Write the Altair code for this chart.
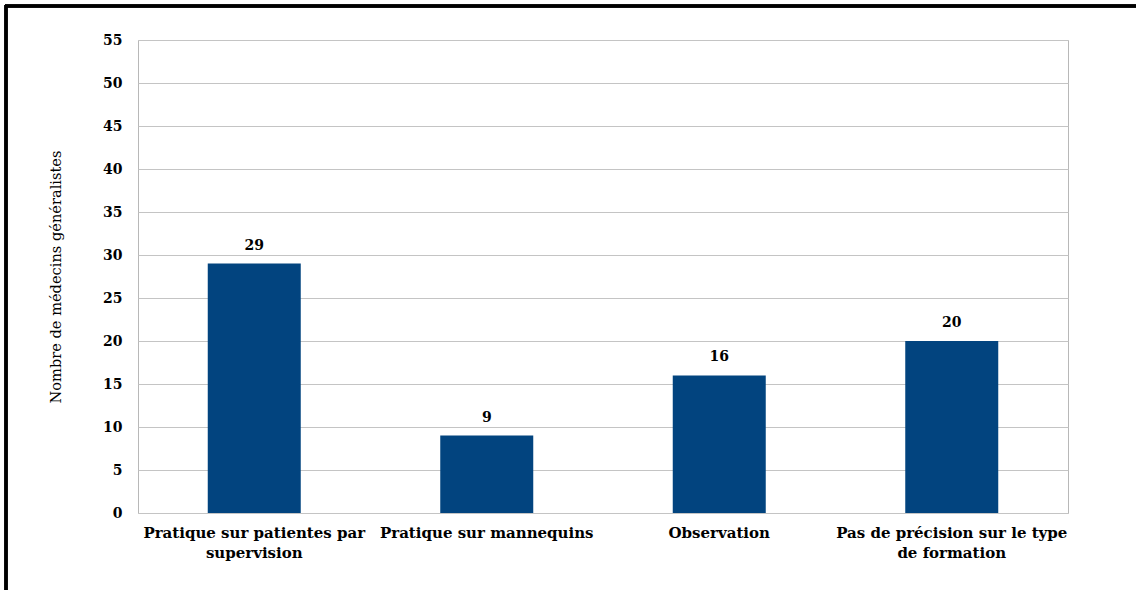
import altair as alt
import pandas as pd

categories = [
    "Pratique sur patientes par\nsupervision",
    "Pratique sur mannequins",
    "Observation",
    "Pas de précision sur le type\nde formation",
]
values = [29, 9, 16, 20]

df = pd.DataFrame({"cat": categories, "val": values})

FONT = "DejaVu Serif"
W, H = 930, 473
LEFT, TOP = 138, 40

x_enc = alt.X(
    "cat:N",
    sort=categories,
    scale=alt.Scale(paddingInner=0.6, paddingOuter=0.3),
    axis=alt.Axis(
        title=None,
        labelAngle=0,
        labelFont=FONT,
        labelFontSize=15,
        labelFontWeight="bold",
        labelColor="#000000",
        labelPadding=12,
        labelLineHeight=20,
        labelExpr="split(datum.label, '\\n')",
        ticks=False,
        domain=False,
        grid=False,
        labelLimit=300,
    ),
)
y_enc = alt.Y(
    "val:Q",
    scale=alt.Scale(domain=[0, 55], nice=False),
    axis=alt.Axis(
        title="Nombre de médecins généralistes",
        titleFont=FONT,
        titleFontSize=14.6,
        titleFontWeight="normal",
        titleColor="#000000",
        titlePadding=39,
        values=list(range(0, 56, 5)),
        labelFont=FONT,
        labelFontSize=14,
        labelFontWeight="bold",
        labelColor="#000000",
        labelPadding=16,
        ticks=False,
        domain=False,
        gridColor="#c4c4c4",
        gridWidth=1,
    ),
)

bars = alt.Chart(df).mark_bar(color="#02447F").encode(x=x_enc, y=y_enc)
labels = alt.Chart(df).mark_text(
    dy=-11, font=FONT, fontSize=14, fontWeight="bold", color="#000000", baseline="bottom"
).encode(x=alt.X("cat:N", sort=categories), y="val:Q", text="val:Q")

border_left = alt.Chart(df).mark_rule(color="#000000", strokeWidth=3, clip=False).encode(
    x=alt.value(6 - LEFT), y=alt.value(5 - TOP), y2=alt.value(600)
)
border_top = alt.Chart(df).mark_rule(color="#000000", strokeWidth=3, clip=False).encode(
    y=alt.value(6 - TOP), x=alt.value(5 - LEFT), x2=alt.value(1136)
)

chart = (
    alt.layer(bars, labels, border_left, border_top)
    .properties(
        width=W,
        height=H,
        padding={"left": LEFT, "top": TOP, "right": 1136 - LEFT - W, "bottom": 590 - TOP - H},
        autosize=alt.AutoSizeParams(type="none"),
        background="#ffffff",
    )
    .configure_view(stroke="#b8b8b8", strokeWidth=1)
)

chart.save("out.html", embed_options={"renderer": "svg", "actions": False})
